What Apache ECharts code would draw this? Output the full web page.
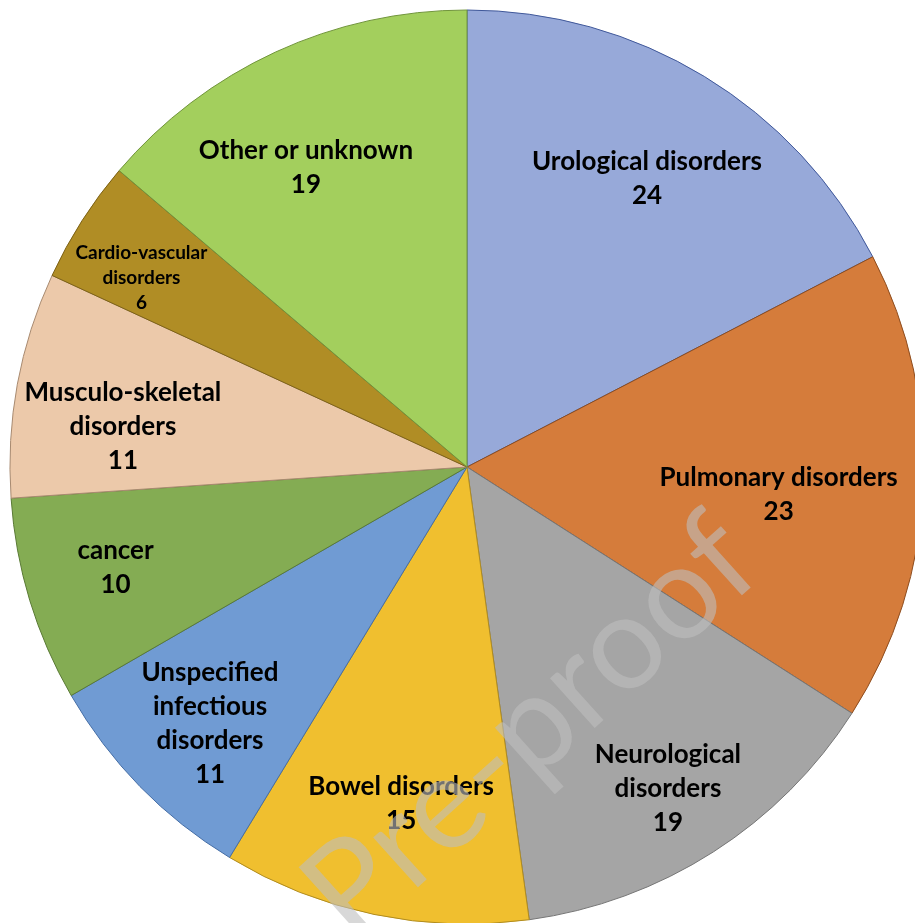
<!DOCTYPE html>
<html>
<head>
<meta charset="utf-8">
<script src="https://cdn.jsdelivr.net/npm/echarts@6/dist/echarts.min.js"></script>
<style>
html,body{margin:0;padding:0;background:#fff;}
#chart{width:915px;height:923px;}
</style>
</head>
<body>
<div id="chart"></div>
<script>
// Data
const categories = [
  "Urological disorders",
  "Pulmonary disorders",
  "Neurological\ndisorders",
  "Bowel disorders",
  "Unspecified\ninfectious\ndisorders",
  "cancer",
  "Musculo-skeletal\ndisorders",
  "Cardio-vascular\ndisorders",
  "Other or unknown"
];
const values = [24, 23, 19, 15, 11, 10, 11, 6, 19];

// Styles
const fillColors = ["#97a9d9", "#d57c3b", "#a5a5a5", "#f0bf2f", "#709bd3", "#84ac53", "#ecc9aa", "#b08d25", "#a3cf5d"];
const borderColors = ["#40589a", "#8e4d1f", "#767676", "#b08c20", "#456ea6", "#5a7a35", "#a88a70", "#7d6217", "#71953c"];
// label nudges (dx, dy) in px
const labelNudge = [[-6,17],[-46,11],[8,20],[7,-14],[-1,6],[-9,-4],[8,24],[-24,4],[-11,26]];

const chart = echarts.init(document.getElementById('chart'), null, {renderer:'canvas'});
const center = [467, 467];
const R = 457;

const mainData = categories.map((c, i) => ({
  name: c, value: values[i],
  itemStyle: {color: fillColors[i], borderColor: borderColors[i], borderWidth: 1}
}));
const labelData = categories.map((c, i) => {
  const small = i === 7;
  return {
    name: c, value: values[i],
    label: small ? {fontSize: 19, lineHeight: 25} : {}
  };
});

chart.setOption({
  animation: false,
  backgroundColor: '#ffffff',
  series: [
    {
      type: 'pie',
      center: center,
      radius: [0, R],
      startAngle: 90,
      clockwise: true,
      silent: true,
      label: {show: false},
      labelLine: {show: false},
      data: mainData
    },
    {
      type: 'pie',
      center: center,
      radius: [250, 460],
      startAngle: 90,
      clockwise: true,
      silent: true,
      itemStyle: {color: 'rgba(0,0,0,0)', borderWidth: 0},
      label: {
        show: true,
        position: 'inner',
        formatter: '{b}\n{c}',
        fontFamily: 'Lato',
        fontWeight: 'bold',
        fontSize: 26,
        lineHeight: 34,
        color: '#000',
        align: 'center'
      },
      labelLine: {show: false},
      labelLayout: function (p) {
        const n = labelNudge[p.dataIndex];
        return {dx: n[0], dy: n[1]};
      },
      data: labelData
    }
  ],
  graphic: [{
    type: 'text',
    z: 100,
    x: 531, y: 728,
    rotation: 42 * Math.PI / 180,
    style: {
      text: 'Pre-proof',
      font: '400 132px Lato',
      fill: 'rgba(190,190,190,0.6)',
      align: 'center',
      verticalAlign: 'middle'
    }
  }]
});
</script>
</body>
</html>
